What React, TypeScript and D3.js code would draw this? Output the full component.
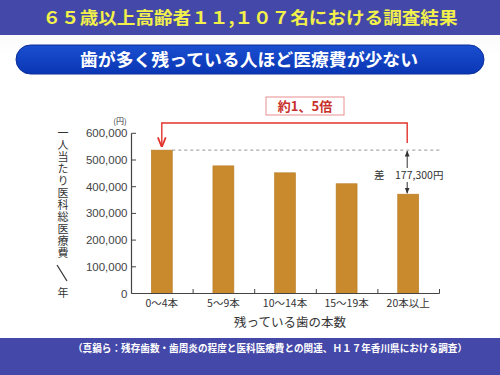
import React from "react";
import * as d3 from "d3";

const title = "６５歳以上高齢者１１,１０７名における調査結果";
const subtitle = "歯が多く残っている人ほど医療費が少ない";
const categories = ["0〜4本", "5〜9本", "10〜14本", "15〜19本", "20本以上"];
const values = [537000, 478000, 452000, 411000, 372000];
const yTicks = [0, 100000, 200000, 300000, 400000, 500000, 600000];
const yLabel = "一人当たり医科総医療費";
const yLabelUnit = "年";
const xTitle = "残っている歯の本数";
const ratioLabel = "約1、5倍";
const diffLabel = "差　177,300円";
const citation = "（真鍋ら：残存歯数・歯周炎の程度と医科医療費との関連、Ｈ１７年香川県における調査）";

const FONT = "'Noto Sans CJK JP', 'Noto Sans', sans-serif";
const SANS = "'Liberation Sans', Arial, sans-serif";

export default function App() {
  const W = 500, H = 375;
  const x = d3.scaleBand<string>().domain(categories).range([131, 439]).paddingInner(0.66).paddingOuter(0.33);
  const y = d3.scaleLinear().domain([0, 600000]).range([293.5, 133.3]);
  const bandStep = x.step();
  const axisLeft = 131.5;
  const axisRight = 439.5;
  const first = categories[0];
  const last = categories[categories.length - 1];
  const firstCx = (x(first) ?? 0) + x.bandwidth() / 2;
  const arrowX = (x(last) ?? 0) + x.bandwidth() / 2 - 1;
  const topY = y(values[0]);
  const lastY = y(values[values.length - 1]);
  const bracketY = 123;
  const red = "#e2342c";
  const tickBounds = categories.map((c, i) => axisLeft + bandStep * (i + 1));

  return (
    <svg width={W} height={H} style={{ position: "absolute", left: 0, top: 0, background: "#fff" }}>
      <defs>
        <linearGradient id="pill" x1="0" y1="0" x2="0" y2="1">
          <stop offset="0" stopColor="#1a4fd0" />
          <stop offset="1" stopColor="#0a36b4" />
        </linearGradient>
        <linearGradient id="bgfade" x1="0" y1="0" x2="0" y2="1">
          <stop offset="0" stopColor="#f2f2f4" />
          <stop offset="0.15" stopColor="#ffffff" />
          <stop offset="1" stopColor="#ffffff" />
        </linearGradient>
        <marker id="redArrow" viewBox="0 0 10 10" refX="9" refY="5" markerWidth="7" markerHeight="7" orient="auto">
          <path d="M0,1 L10,5 L0,9" fill="none" stroke={red} strokeWidth="1.8" />
        </marker>
        <marker id="blkArrow" viewBox="0 0 10 10" refX="9" refY="5" markerWidth="6" markerHeight="6" orient="auto-start-reverse">
          <path d="M0,1 L10,5 L0,9 Z" fill="#333" />
        </marker>
      </defs>
      <rect x={0} y={0} width={W} height={H} fill="url(#bgfade)" />
      {/* top banner */}
      <rect x={0} y={0} width={W} height={35} fill="#4448a8" />
      <text x={250} y={24} textAnchor="middle" fontFamily={FONT} fontWeight="bold" fontSize={17}
        fill="#f2f04a" textLength={415} lengthAdjust="spacingAndGlyphs">{title}</text>
      {/* pill */}
      <rect x={16} y={45} width={468} height={29} rx={14.5} fill="url(#pill)" stroke="#0a2e9a" strokeWidth={1} />
      <text x={249} y={66} textAnchor="middle" fontFamily={FONT} fontWeight="bold" fontSize={17.5}
        fill="#ffffff" textLength={338} lengthAdjust="spacingAndGlyphs">{subtitle}</text>

      {/* y axis label */}
      <rect x={55} y={122} width={16} height={182} fill="#ffffff" />
      <text x={63} y={127} fontFamily={FONT} fontSize={11} fill="#333"
        style={{ writingMode: "vertical-rl", letterSpacing: "1px" }}>{yLabel}</text>
      <line x1={57} y1={265} x2={67} y2={281} stroke="#333" strokeWidth={1.2} />
      <text x={63} y={297} textAnchor="middle" fontFamily={FONT} fontSize={11} fill="#333">{yLabelUnit}</text>
      <text x={120} y={124} textAnchor="middle" fontFamily={FONT} fontSize={8} fill="#333">(円)</text>

      {/* bars */}
      {categories.map((c, i) => (
        <rect key={c} x={x(c)} y={y(values[i])} width={x.bandwidth()} height={y(0) - y(values[i])}
          fill="#c98a2e" stroke="#b87a22" strokeWidth={0.6} />
      ))}

      {/* axes */}
      <line x1={axisLeft} y1={y(600000)} x2={axisLeft} y2={y(0)} stroke="#444" strokeWidth={1.2} />
      <line x1={axisLeft} y1={y(0)} x2={axisRight} y2={y(0)} stroke="#444" strokeWidth={1.2} />
      {yTicks.map((t) => (
        <g key={t}>
          <line x1={axisLeft} x2={axisLeft + 4.5} y1={y(t)} y2={y(t)} stroke="#444" strokeWidth={1} />
          <text x={127.5} y={y(t) + 4} textAnchor="end" fontFamily={SANS} fontSize={11.5} fill="#444">
            {t === 0 ? "0" : d3.format(",")(t)}
          </text>
        </g>
      ))}
      {tickBounds.map((tx, i) => (
        <line key={i} x1={tx} x2={tx} y1={y(0)} y2={y(0) - 4.5} stroke="#444" strokeWidth={1} />
      ))}
      {categories.map((c) => (
        <text key={c} x={(x(c) ?? 0) + x.bandwidth() / 2} y={307} textAnchor="middle" fontFamily={FONT}
          fontSize={10.5} fill="#333">{c}</text>
      ))}
      <text x={290} y={327} textAnchor="middle" fontFamily={FONT} fontSize={12.5} fill="#333">{xTitle}</text>

      {/* dashed reference line */}
      <line x1={(x(first) ?? 0) + x.bandwidth()} x2={440} y1={topY} y2={topY} stroke="#888" strokeWidth={0.9} strokeDasharray="3,3" />

      {/* red bracket */}
      <path d={`M${arrowX},${topY - 7} L${arrowX},${bracketY} L${firstCx},${bracketY} L${firstCx},${topY - 4}`}
        fill="none" stroke={red} strokeWidth={1.4} markerEnd="url(#redArrow)" />
      <rect x={266} y={97} width={78} height={18} fill="#fff" stroke="#e89090" strokeWidth={1} />
      <text x={305} y={111} textAnchor="middle" fontFamily={FONT} fontWeight="bold" fontSize={13} fill="#c8302a">{ratioLabel}</text>

      {/* black diff arrow */}
      <line x1={arrowX} x2={arrowX} y1={topY + 1} y2={lastY - 1} stroke="#333" strokeWidth={1}
        markerStart="url(#blkArrow)" markerEnd="url(#blkArrow)" />
      <rect x={370} y={168} width={74} height={14} fill="#fff" />
      <text x={374} y={179} fontFamily={FONT} fontSize={10.5} fill="#333">{diffLabel}</text>

      {/* bottom band */}
      <rect x={0} y={338} width={W} height={37} fill="#4448a8" />
      <text x={270} y={352} textAnchor="middle" fontFamily={FONT} fontWeight="bold" fontSize={10}
        fill="#ffffff" textLength={394} lengthAdjust="spacingAndGlyphs">{citation}</text>
    </svg>
  );
}
